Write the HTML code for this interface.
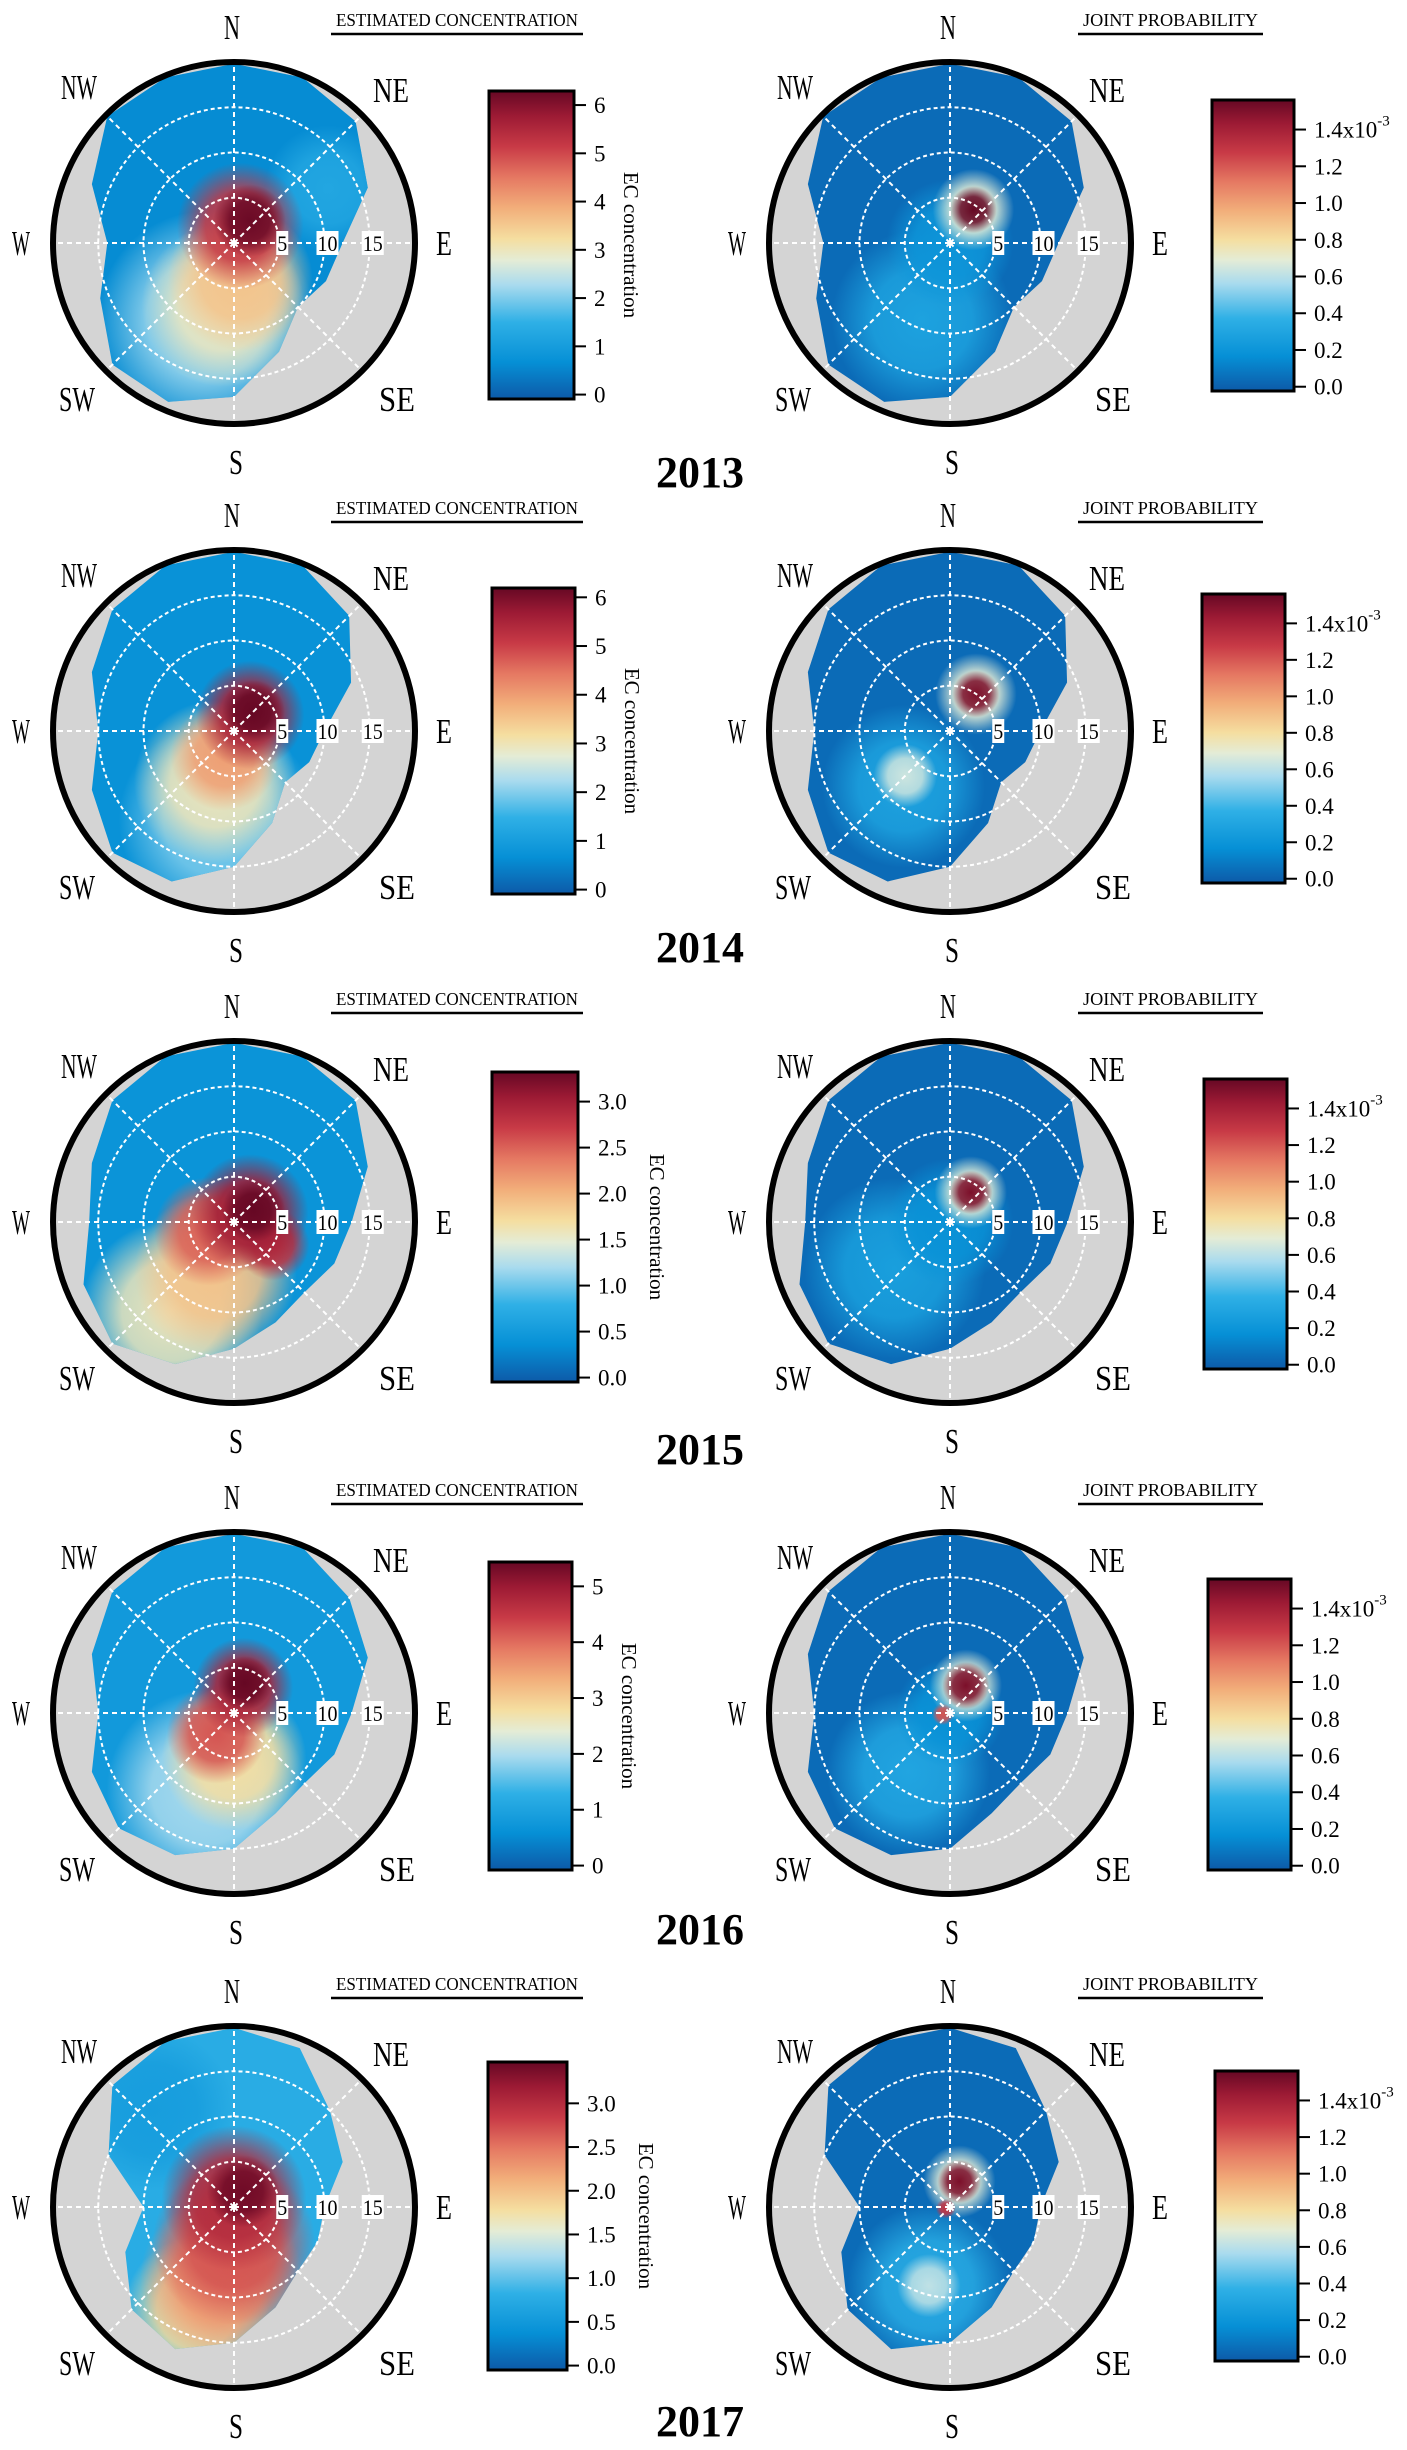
<!DOCTYPE html>
<html><head><meta charset="utf-8">
<style>
html,body{margin:0;padding:0;background:#fff;}
svg{display:block;}
text{font-family:"Liberation Serif",serif;fill:#000;}
</style></head>
<body>
<svg id="fig" xmlns="http://www.w3.org/2000/svg" width="1407" height="2450" viewBox="0 0 1407 2450">
<defs id="defs"></defs>
</svg>
<script>
// ---------- data ----------
const years = ["2013","2014","2015","2016","2017"];
const dirLabels16 = ["N","NNE","NE","ENE","E","ESE","SE","SSE","S","SSW","SW","WSW","W","WNW","NW","NNW"];
// max wind speed of data coverage (units) per direction, N clockwise
const coverage2013 = [20,20,19,16,12,11,10,13,17,19,19,16,14,17,20,20];
const coverage2014 = [20,20,18,14,10,9,8,11,15,18,19,17,15,17,19,20];
const coverage2015 = [20,20,19,16,13,12,11,12,14,17,19,18,16,17,19,20];
const coverage2016 = [20,20,18,16,13,12,11,12,15,17,18,17,15,17,19,20];
const coverage2017 = [20,19,15,13,10,10,10,12,15,17,16,13,10,15,19,20];
const coverage = [coverage2013,coverage2014,coverage2015,coverage2016,coverage2017];

// EC concentration surface: base value and hotspots (direction deg, wind speed, value, spread)
const ecBase = [0.7, 0.8, 0.45, 0.85, 0.8];
const ecDir  = [[60,200,190,170,20,35],[190,200,200,45,45],[215,200,250,120,60,60],[200,180,220,20,20],[320,200,190,180,0,30]];
const ecWs   = [[12,9,7,4,2,3],[10,6,3,2.5,3],[12,6,3,5,2,2.5],[9,5,3,3,3.5],[14,12,8,4,1,2]];
const ecVal  = [[1.3,2.2,3.0,3.6,5.2,6.2],[2.0,3.0,4.0,5.5,6.2],[1.6,1.9,2.5,2.8,3.0,3.3],[2.0,2.8,4.2,4.8,5.4],[0.6,1.8,2.3,2.7,3.0,3.4]];
const ecSpread=[[7,12,9,8,7,4],[11,9,6,6,3.5],[10,9,6,4,6.5,3.5],[11,8,5.5,5.5,3],[9,8,9,9,8,4]];
const ecMax  = [6.25, 6.15, 3.3, 5.4, 3.45];
const ecTicks = [[0,1,2,3,4,5,6],[0,1,2,3,4,5,6],[0,0.5,1,1.5,2,2.5,3],[0,1,2,3,4,5],[0,0.5,1,1.5,2,2.5,3]];
const ecTickLabels = [["0","1","2","3","4","5","6"],["0","1","2","3","4","5","6"],["0.0","0.5","1.0","1.5","2.0","2.5","3.0"],["0","1","2","3","4","5"],["0.0","0.5","1.0","1.5","2.0","2.5","3.0"]];

// joint probability surface (x1e-3)
const jpBase = [0.06, 0.06, 0.06, 0.06, 0.06];
const jpDir  = [[200,0,35,35],[220,225,35,35],[230,0,35,35],[215,0,30,30,260],[195,195,20,20,250]];
const jpWs   = [[9,0,4.5,4.5],[8,7,5,5],[8,0,4,4],[8,0,3.5,3.5,0.8],[9,9,3,3,0.5]];
const jpVal  = [[0.3,0.22,0.7,1.55],[0.3,0.65,0.7,1.5],[0.28,0.2,0.7,1.5],[0.32,0.2,0.7,1.5,1.2],[0.35,0.62,0.7,1.5,1.3]];
const jpSpread=[[10,7,4.5,2.6],[9,3.5,4.5,2.6],[10,7,4,2.4],[9,6,4,2.6,1.2],[9,3.5,4,2.4,1.1]];
const jpMax = 1.55;
const jpTicks = [0,0.2,0.4,0.6,0.8,1.0,1.2,1.4];
const jpTickLabels = ["0.0","0.2","0.4","0.6","0.8","1.0","1.2","1.4x10"];
const ringValues = [5,10,15];

// ---------- layout ----------
const centersY = [243,731,1222,1713,2207];
const leftCX = 234, rightCX = 950, R = 181, wsMax = 20;
const ecBar = [[489,91,574,399],[492,588,575,894],[492,1072,578,1382],[489,1562,572,1870],[488,2062,567,2370]];
const jpBar = [[1212,100,1294,391],[1202,594,1285,883],[1204,1079,1287,1369],[1208,1579,1291,1870],[1215,2071,1298,2361]];
const yearY = [472,947,1449,1929,2421];

const stops = [[0,"#0d5aa8"],[0.12,"#0690d6"],[0.25,"#2fb0e6"],[0.37,"#a9dbee"],[0.45,"#e4ecd6"],[0.52,"#f5dea0"],[0.62,"#f2ae7a"],[0.72,"#e57862"],[0.82,"#c83a46"],[0.92,"#9c1a34"],[1,"#660824"]];
function hex(c){return [1,3,5].map(i=>parseInt(c.substr(i,2),16));}
function colorAt(t){
  t=Math.max(0,Math.min(1,t));
  for(let i=1;i<stops.length;i++){
    if(t<=stops[i][0]){
      const a=stops[i-1],b=stops[i];const f=(t-a[0])/(b[0]-a[0]);
      const ca=hex(a[1]),cb=hex(b[1]);
      return "rgb("+ca.map((v,k)=>Math.round(v+(cb[k]-v)*f)).join(",")+")";
    }
  }
  return stops[stops.length-1][1];
}
const NS="http://www.w3.org/2000/svg";
const svg=document.getElementById("fig");
const defs=document.getElementById("defs");
function mk(tag,attrs,parent){const e=document.createElementNS(NS,tag);for(const k in attrs)e.setAttribute(k,attrs[k]);(parent||svg).appendChild(e);return e;}
function rScale(ws){return ws*R/wsMax;}
function polar(cx,cy,dir,ws){const r=rScale(ws),a=dir*Math.PI/180;return [cx+r*Math.sin(a),cy-r*Math.cos(a)];}
let gid=0;

const cbg=mk("linearGradient",{id:"cbgrad",x1:"0",y1:"1",x2:"0",y2:"0"},defs);
stops.forEach(s=>mk("stop",{offset:s[0],"stop-color":s[1]},cbg));

function drawPolar(yi,cx,cy,base,dirs,wss,vals,spreads,vmax,kind){
  const g=mk("g",{});
  
  
  const bg=mk("circle",{cx:cx,cy:cy,r:R,fill:"#d4d4d4"},g);
  
  
  const cid="clip"+(gid++);
  const cp=mk("clipPath",{id:cid},defs);
  const pts=coverage[yi].map((ws,i)=>polar(cx,cy,i*22.5,Math.min(ws,19.8)).join(",")).join(" ");
  mk("polygon",{points:pts},cp);
  const sg=mk("g",{"clip-path":"url(#"+cid+")"},g);
  
  
  mk("circle",{cx:cx,cy:cy,r:R,fill:colorAt(base/vmax)},sg);
  for(let i=0;i<dirs.length;i++){
    const id="rg"+(gid++);
    const col=colorAt(vals[i]/vmax);
    const rg=mk("radialGradient",{id:id},defs);
    mk("stop",{offset:"0","stop-color":col,"stop-opacity":"1"},rg);
    mk("stop",{offset:"0.55","stop-color":col,"stop-opacity":"0.85"},rg);
    mk("stop",{offset:"1","stop-color":col,"stop-opacity":"0"},rg);
    const p=polar(cx,cy,dirs[i],wss[i]);
    const b=mk("circle",{cx:p[0],cy:p[1],r:rScale(spreads[i]),fill:"url(#"+id+")"},sg);
    
    
  }
  ringValues.forEach(v=>{
    const c=mk("circle",{cx:cx,cy:cy,r:rScale(v),fill:"none",stroke:"#fff","stroke-width":2,"stroke-dasharray":"4 3"},g);
    
    
  });
  for(let k=0;k<8;k++){
    const p=polar(cx,cy,k*45,19.7);
    const l=mk("line",{x1:cx,y1:cy,x2:p[0],y2:p[1],stroke:"#fff","stroke-width":2,"stroke-dasharray":"5 4"},g);
    
    
  }
  mk("circle",{cx:cx,cy:cy,r:3,fill:"#fff"},g);
  ringValues.forEach(v=>{
    const x=cx+rScale(v)+3;
    mk("rect",{x:x-(v<10?6:11),y:cy-12,width:v<10?12:22,height:24,fill:"#fff"},g);
    const t=mk("text",{x:x,y:cy+8,"text-anchor":"middle","font-size":22,textLength:v<10?10:20,lengthAdjust:"spacingAndGlyphs"},g);
    t.textContent=v;
    
    
  });
  const edge=mk("circle",{cx:cx,cy:cy,r:R,fill:"none",stroke:"#000","stroke-width":6},g);
  
  
  const comp=[["N",-2,-216,16],["NE",157,-153,36],["E",210,0,16],["SE",163,156,36],["S",2,219,14],["SW",-157,156,36],["W",-213,0,18],["NW",-155,-156,36]];
  comp.forEach(c=>{
    const t=mk("text",{x:cx+c[1],y:cy+c[2]+12,"text-anchor":"middle","font-size":35,textLength:c[3],lengthAdjust:"spacingAndGlyphs"},g);
    t.textContent=c[0];
    
    
  });
}

function drawBar(box,ticks,labels,vmax,kind,title,titleX0,titleX1,cy,sup){
  const [x0,y0,x1,y1]=box;
  const g=mk("g",{});
  
  
  mk("rect",{x:x0,y:y0,width:x1-x0,height:y1-y0,fill:"url(#cbgrad)",stroke:"#000","stroke-width":3},g);
  const vmin=-vmax*0.008;
  const yv=v=>y1-2-(v-vmin)/(vmax-vmin)*(y1-y0-4);
  ticks.forEach((v,i)=>{
    const y=yv(v);
    mk("line",{x1:x1,y1:y,x2:x1+12,y2:y,stroke:"#000","stroke-width":2},g);
    const t=mk("text",{x:x1+20,y:y+8,"font-size":23,fill:"#333"},g);
    t.textContent=labels[i];
    
    
    if(sup && i===ticks.length-1){
      const s=mk("tspan",{dy:-12,"font-size":15},t);
      s.textContent="-3";
    }
  });
  const tt=mk("text",{x:(titleX0+titleX1)/2,y:cy-217,"text-anchor":"middle","font-size":18,textLength:titleX1-titleX0-6,lengthAdjust:"spacingAndGlyphs"},g);
  tt.textContent=title;
  
  
  mk("line",{x1:titleX0-2,y1:cy-209,x2:titleX1+2,y2:cy-209,stroke:"#000","stroke-width":2.5},g);
}

years.forEach((yr,i)=>{
  const cy=centersY[i];
  drawPolar(i,leftCX,cy,ecBase[i],ecDir[i],ecWs[i],ecVal[i],ecSpread[i],ecMax[i],"ec");
  drawPolar(i,rightCX,cy,jpBase[i],jpDir[i],jpWs[i],jpVal[i],jpSpread[i],jpMax,"jp");
  drawBar(ecBar[i],ecTicks[i],ecTickLabels[i],ecMax[i],"ec","ESTIMATED CONCENTRATION",333,581,cy,false);
  drawBar(jpBar[i],jpTicks,jpTickLabels,jpMax,"jp","JOINT PROBABILITY",1080,1261,cy,true);
  const b=ecBar[i];
  const dec=ecTickLabels[i][0].length>1;
  const lx=b[2]+(dec?72:50), ly=(b[1]+b[3])/2;
  const lab=mk("text",{x:lx,y:ly,"text-anchor":"middle","font-size":21,transform:"rotate(90 "+lx+" "+ly+")"});
  lab.textContent="EC concentration";
  
  
  const yt=mk("text",{x:700,y:yearY[i]+15,"text-anchor":"middle","font-size":44,"font-weight":"bold"});
  yt.textContent=yr;
  
  
});
</script>
</body></html>
